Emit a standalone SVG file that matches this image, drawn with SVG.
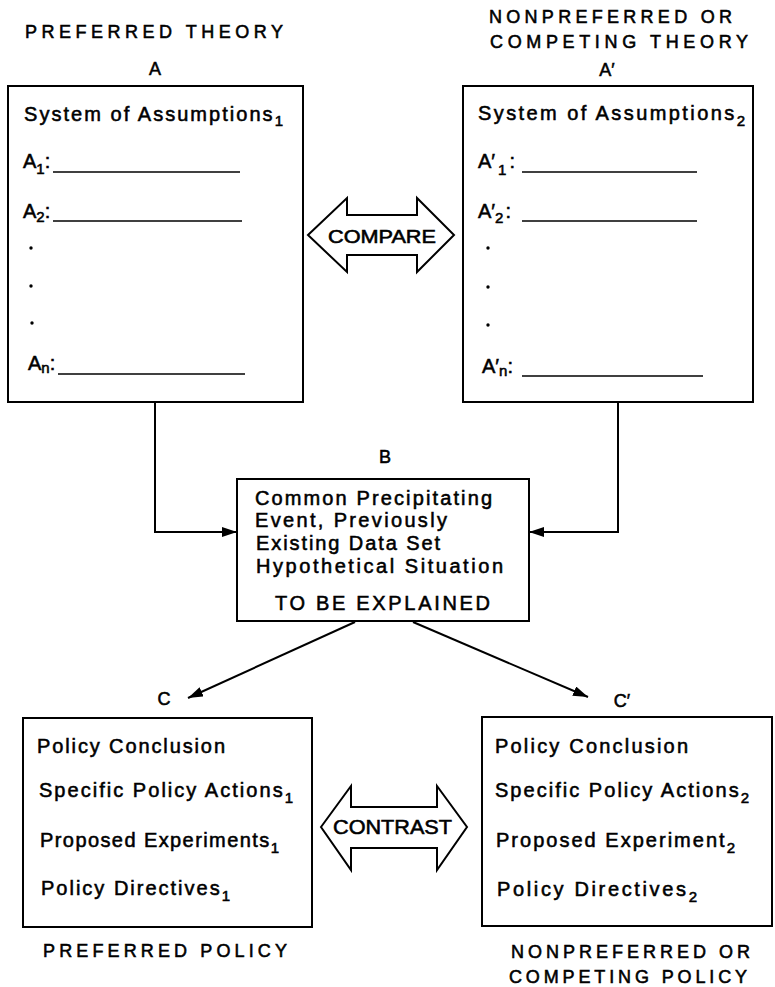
<svg xmlns="http://www.w3.org/2000/svg" width="775" height="987" viewBox="0 0 775 987">
<style>
text{font-family:"Liberation Sans","DejaVu Sans",sans-serif;fill:#000;stroke:#000;stroke-width:0.55}
.t{font-size:20px}
.h{font-size:18px}
.l{font-size:18px}
.sub{font-size:15px}
.box{fill:#fff;stroke:#000;stroke-width:2}
.ln{stroke:#000;stroke-width:1.6;fill:none}
.con{stroke:#000;stroke-width:2;fill:none}
.dbl{fill:#fff;stroke:#000;stroke-width:2;stroke-linejoin:miter}
</style>
<defs>
<marker id="ah" markerUnits="userSpaceOnUse" markerWidth="16" markerHeight="12" refX="15" refY="5" orient="auto">
<path d="M0,0 L15,5 L0,10 Z" fill="#000"/>
</marker>
</defs>

<g id="title-A">
<text class="h" x="25" y="38" textLength="258" lengthAdjust="spacing">PREFERRED THEORY</text>
<text class="l" x="155" y="75" text-anchor="middle">A</text>
</g>
<g id="title-A2">
<text class="h" x="489" y="23" textLength="243" lengthAdjust="spacing">NONPREFERRED OR</text>
<text class="h" x="490" y="48" textLength="258" lengthAdjust="spacing">COMPETING THEORY</text>
<text class="l" x="607" y="76" text-anchor="middle">A′</text>
</g>

<g id="node-A">
<rect class="box" x="8" y="86" width="295" height="316"/>
<text class="t" x="24" y="121" textLength="259" lengthAdjust="spacing">System of Assumptions<tspan class="sub" dy="5">1</tspan></text>
<text class="t" x="23" y="168">A<tspan class="sub" dy="6">1</tspan><tspan dy="-6">:</tspan></text>
<line class="ln" x1="53" y1="172" x2="240" y2="172"/>
<text class="t" x="23" y="218">A<tspan class="sub" dy="4">2</tspan><tspan dy="-4">:</tspan></text>
<line class="ln" x1="53" y1="221" x2="242" y2="221"/>
<circle cx="31" cy="248" r="1.7"/>
<circle cx="31" cy="286" r="1.7"/>
<circle cx="32" cy="323" r="1.7"/>
<text class="t" x="28" y="370">A<tspan class="sub" dy="3">n</tspan><tspan dy="-3">:</tspan></text>
<line class="ln" x1="58" y1="374" x2="245" y2="374"/>
</g>

<g id="node-A2">
<rect class="box" x="463" y="86" width="290" height="316"/>
<text class="t" x="478" y="120" textLength="267" lengthAdjust="spacing">System of Assumptions<tspan class="sub" dy="6">2</tspan></text>
<text class="t" x="478" y="168">A′<tspan class="sub" dx="3" dy="7">1</tspan><tspan dx="3" dy="-7">:</tspan></text>
<line class="ln" x1="522" y1="172" x2="697" y2="172"/>
<text class="t" x="478" y="218">A′<tspan class="sub" dy="5">2</tspan><tspan dx="2" dy="-5">:</tspan></text>
<line class="ln" x1="522" y1="221" x2="697" y2="221"/>
<circle cx="488" cy="248" r="1.7"/>
<circle cx="488" cy="287" r="1.7"/>
<circle cx="488" cy="325" r="1.7"/>
<text class="t" x="482" y="373">A′<tspan class="sub" dy="3">n</tspan><tspan dy="-3">:</tspan></text>
<line class="ln" x1="522" y1="376" x2="703" y2="376"/>
</g>

<g id="compare">
<polygon class="dbl" points="308,235 347,198 347,215 417,215 417,198 454,235 417,272 417,255 347,255 347,272"/>
<text class="l" x="328" y="243" textLength="108" lengthAdjust="spacingAndGlyphs">COMPARE</text>
</g>

<g id="node-B">
<text class="l" x="385" y="463" text-anchor="middle">B</text>
<rect class="box" x="237" y="479" width="292" height="142"/>
<text class="t" x="255" y="505" textLength="237" lengthAdjust="spacing">Common Precipitating</text>
<text class="t" x="255" y="527" textLength="192" lengthAdjust="spacing">Event, Previously</text>
<text class="t" x="256" y="550" textLength="184" lengthAdjust="spacing">Existing Data Set</text>
<text class="t" x="256" y="573" textLength="247" lengthAdjust="spacing">Hypothetical Situation</text>
<text class="t" x="275" y="610" textLength="215" lengthAdjust="spacing">TO BE EXPLAINED</text>
</g>

<g id="connectors">
<path class="con" d="M155,402 V532 H237" marker-end="url(#ah)"/>
<path class="con" d="M618,402 V532 H529" marker-end="url(#ah)"/>
<path class="con" d="M355,622 L188,698" marker-end="url(#ah)"/>
<path class="con" d="M413,622 L588,697" marker-end="url(#ah)"/>
</g>

<g id="node-C">
<text class="l" x="164" y="705" text-anchor="middle">C</text>
<rect class="box" x="23" y="718" width="289" height="209"/>
<text class="t" x="37" y="753" textLength="188" lengthAdjust="spacing">Policy Conclusion</text>
<text class="t" x="39" y="797" textLength="254" lengthAdjust="spacing">Specific Policy Actions<tspan class="sub" dy="6">1</tspan></text>
<text class="t" x="40" y="847" textLength="239" lengthAdjust="spacing">Proposed Experiments<tspan class="sub" dy="6">1</tspan></text>
<text class="t" x="41" y="895" textLength="189" lengthAdjust="spacing">Policy Directives<tspan class="sub" dy="6">1</tspan></text>
<text class="h" x="43" y="957" textLength="244" lengthAdjust="spacing">PREFERRED POLICY</text>
</g>

<g id="contrast">
<polygon class="dbl" points="321,827 351,786 351,807 437,807 437,786 467,827 437,870 437,848 351,848 351,870"/>
<text class="t" x="333" y="834" textLength="119" lengthAdjust="spacingAndGlyphs">CONTRAST</text>
</g>

<g id="node-C2">
<text class="l" x="622" y="707" text-anchor="middle">C′</text>
<rect class="box" x="482" y="717" width="290" height="209"/>
<text class="t" x="495" y="753" textLength="193" lengthAdjust="spacing">Policy Conclusion</text>
<text class="t" x="495" y="797" textLength="254" lengthAdjust="spacing">Specific Policy Actions<tspan class="sub" dy="6">2</tspan></text>
<text class="t" x="496" y="847" textLength="239" lengthAdjust="spacing">Proposed Experiment<tspan class="sub" dy="6">2</tspan></text>
<text class="t" x="497" y="896" textLength="200" lengthAdjust="spacing">Policy Directives<tspan class="sub" dy="6">2</tspan></text>
<text class="h" x="511" y="958" textLength="239" lengthAdjust="spacing">NONPREFERRED OR</text>
<text class="h" x="509" y="983" textLength="238" lengthAdjust="spacing">COMPETING POLICY</text>
</g>
</svg>
